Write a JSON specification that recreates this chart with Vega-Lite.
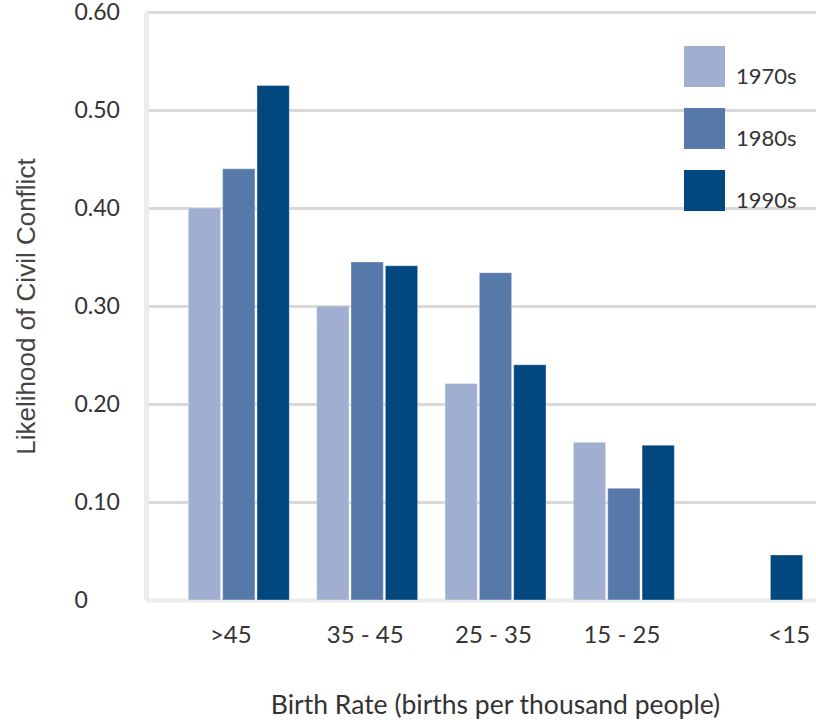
{
  "$schema": "https://vega.github.io/schema/vega-lite/v6.json",
  "width": 670,
  "height": 588,
  "autosize": {"type": "none"},
  "padding": {"left": 146, "top": 12, "right": 0, "bottom": 124},
  "background": "#ffffff",
  "data": {
    "values": [
      {"rate": ">45", "decade": "1970s", "likelihood": 0.40},
      {"rate": ">45", "decade": "1980s", "likelihood": 0.44},
      {"rate": ">45", "decade": "1990s", "likelihood": 0.525},
      {"rate": "35 - 45", "decade": "1970s", "likelihood": 0.30},
      {"rate": "35 - 45", "decade": "1980s", "likelihood": 0.345},
      {"rate": "35 - 45", "decade": "1990s", "likelihood": 0.341},
      {"rate": "25 - 35", "decade": "1970s", "likelihood": 0.221},
      {"rate": "25 - 35", "decade": "1980s", "likelihood": 0.334},
      {"rate": "25 - 35", "decade": "1990s", "likelihood": 0.24},
      {"rate": "15 - 25", "decade": "1970s", "likelihood": 0.161},
      {"rate": "15 - 25", "decade": "1980s", "likelihood": 0.114},
      {"rate": "15 - 25", "decade": "1990s", "likelihood": 0.158},
      {"rate": "<15", "decade": "1990s", "likelihood": 0.046}
    ]
  },
  "mark": {"type": "bar", "stroke": "#ffffff", "strokeOpacity": 0.35, "strokeWidth": 1},
  "encoding": {
    "x": {
      "field": "rate",
      "type": "nominal",
      "sort": [">45", "35 - 45", "25 - 35", "15 - 25", "<15"],
      "scale": {"paddingInner": 0.213, "paddingOuter": 0.2165, "align": 0.761},
      "axis": {
        "title": "Birth Rate (births per thousand people)",
        "labelAngle": 0,
        "labelFont": "Lato",
        "labelFontSize": 24,
        "labelColor": "#333333",
        "labelPadding": 23,
        "labelOffset": {
          "condition": [
            {"test": "datum.label === '<15'", "value": 37},
            {"test": "datum.label === '>45'", "value": -8}
          ],
          "value": -2
        },
        "ticks": false,
        "tickSize": 0,
        "domainColor": "#ebebeb",
        "domainWidth": 4,
        "titleFont": "Lato",
        "titleFontSize": 26.5,
        "titleFontWeight": "normal",
        "titleColor": "#333333",
        "titleAlign": "center",
        "titleBaseline": "middle",
        "titleX": 349,
        "titleY": 105
      }
    },
    "xOffset": {
      "field": "decade",
      "type": "nominal",
      "scale": {"paddingInner": 0.06, "paddingOuter": 0}
    },
    "y": {
      "field": "likelihood",
      "type": "quantitative",
      "scale": {"domain": [0, 0.6], "nice": false},
      "axis": {
        "title": "Likelihood of Civil  Conflict",
        "values": [0, 0.1, 0.2, 0.3, 0.4, 0.5, 0.6],
        "labelExpr": "datum.value == 0 ? '0' : format(datum.value, '.2f')",
        "labelFont": "Lato",
        "labelFontSize": 23,
        "labelColor": "#333333",
        "labelAlign": "left",
        "labelBaseline": "middle",
        "labelPadding": 72,
        "labelBound": false,
        "ticks": false,
        "tickSize": 0,
        "domainColor": "#ececec",
        "domainWidth": 5,
        "grid": true,
        "gridColor": {"condition": {"test": "datum.value === 0", "value": "#ececec"}, "value": "#d9d9d9"},
        "gridWidth": 3,
        "titleFont": "Liberation Sans",
        "titleFontSize": 26,
        "titleFontWeight": "normal",
        "titleColor": "#444444",
        "titleBaseline": "middle",
        "titleX": -120,
        "titleY": 294
      }
    },
    "color": {
      "field": "decade",
      "type": "nominal",
      "scale": {
        "domain": ["1970s", "1980s", "1990s"],
        "range": ["#a0afd0", "#5779a9", "#00487f"]
      },
      "legend": {
        "title": null,
        "orient": "none",
        "legendX": 538,
        "legendY": 34,
        "padding": 0,
        "symbolType": "square",
        "symbolSize": 1681,
        "symbolStrokeWidth": 0,
        "symbolOpacity": 1,
        "rowPadding": 20,
        "labelOffset": 11,
        "labelFont": "Lato",
        "labelFontSize": 22,
        "labelColor": "#333333",
        "labelBaseline": "top"
      }
    }
  },
  "config": {
    "view": {"stroke": null}
  }
}
